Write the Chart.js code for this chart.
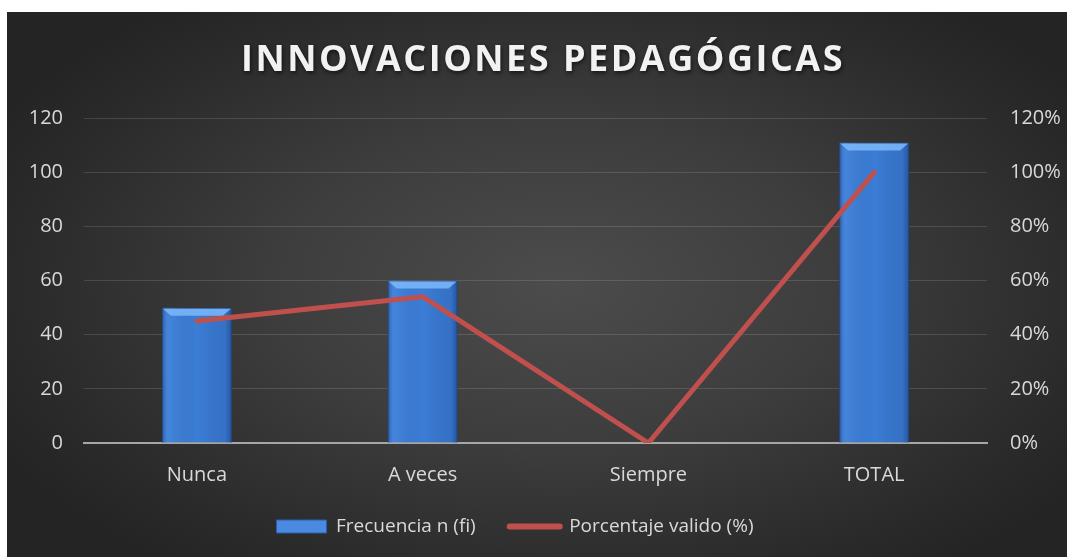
<!DOCTYPE html>
<html>
<head>
<meta charset="utf-8">
<script src="https://cdn.jsdelivr.net/npm/chart.js@4/dist/chart.umd.min.js"></script>
<style>
  html, body { margin: 0; padding: 0; background: #ffffff; }
  #wrap {
    position: absolute; left: 7px; top: 12px; width: 1060px; height: 545px;
    background: radial-gradient(ellipse 60% 65% at 52% 50%, #4c4c4c 0%, #3d3d3d 45%, #2a2a2a 85%, #242424 100%);
  }
</style>
</head>
<body>
<div id="wrap"><canvas id="chartjs" width="1060" height="545"></canvas></div>
<script>
// datos del gráfico
const categorias = ['Nunca', 'A veces', 'Siempre', 'TOTAL'];
const frecuencia = [50, 60, 0, 111];
const porcentaje = [45.05, 54.05, 0, 100];
const ticksIzq = [0, 20, 40, 60, 80, 100, 120];

const fuente = '"Open Sans", "Noto Sans", sans-serif';

// espaciado de letras para el título y leyenda un poco desplazada
const tituloPlugin = {
    id: 'tituloEspaciado',
    afterInit(chart) {
        const tb = chart.titleBlock;
        if (tb) {
            const orig = tb.draw.bind(tb);
            tb.draw = function () {
                const c = this.ctx;
                c.save();
                c.translate(6, 0);
                c.letterSpacing = '2.5px';
                c.shadowColor = 'rgba(0,0,0,0.6)';
                c.shadowBlur = 4;
                c.shadowOffsetX = 1;
                c.shadowOffsetY = 2;
                orig();
                c.restore();
            };
        }
        const lb = chart.legend;
        if (lb) {
            const origFit = lb.fit.bind(lb);
            lb.fit = function () {
                origFit();
                this.height -= 9;
            };
            const origL = lb.draw.bind(lb);
            lb.draw = function () {
                const c = this.ctx;
                c.save();
                c.translate(-22, -16);
                origL();
                c.restore();
            };
        }
    }
};

// efecto biselado de las barras
const biselPlugin = {
    id: 'bisel',
    afterDatasetDraw(chart, args) {
        if (args.index !== 1) return;
        const c = chart.ctx;
        args.meta.data.forEach(bar => {
            const h = bar.base - bar.y;
            if (h < 2) return;
            const l = bar.x - bar.width / 2, r = bar.x + bar.width / 2, t = bar.y;
            c.save();
            const g = c.createLinearGradient(l, 0, r, 0);
            g.addColorStop(0, 'rgba(20,50,110,0.55)');
            g.addColorStop(0.1, 'rgba(120,180,255,0.15)');
            g.addColorStop(0.5, 'rgba(0,0,0,0)');
            g.addColorStop(0.9, 'rgba(20,50,110,0.15)');
            g.addColorStop(1, 'rgba(20,50,110,0.55)');
            c.fillStyle = g;
            c.fillRect(l, t, r - l, h);
            const b = Math.min(8, h / 2);
            c.beginPath();
            c.moveTo(l + 1, t + 1);
            c.lineTo(r - 1, t + 1);
            c.lineTo(r - 1 - b, t + b);
            c.lineTo(l + 1 + b, t + b);
            c.closePath();
            c.fillStyle = 'rgba(125,185,250,0.85)';
            c.fill();
            c.restore();
        });
    }
};

const ctx = document.getElementById('chartjs').getContext('2d');
const myChart = new Chart(ctx, {
    type: 'bar',
    data: {
        labels: categorias,
        datasets: [
            {
                type: 'line',
                label: 'Porcentaje valido (%)',
                data: porcentaje,
                yAxisID: 'y1',
                borderColor: '#c0504d',
                backgroundColor: '#c0504d',
                borderWidth: 5,
                borderCapStyle: 'round',
                borderJoinStyle: 'round',
                pointRadius: 0,
                tension: 0,
                order: 0
            },
            {
                type: 'bar',
                label: 'Frecuencia n (fi)',
                data: frecuencia,
                yAxisID: 'y',
                backgroundColor: '#3b7dd6',
                borderColor: '#2c5fa9',
                borderWidth: 1,
                barPercentage: 0.31,
                categoryPercentage: 1,
                order: 1
            }
        ]
    },
    options: {
        responsive: false,
        animation: false,
        layout: { padding: { left: 0, right: 0, top: 0, bottom: 4 } },
        plugins: {
            title: {
                display: true,
                text: 'INNOVACIONES PEDAGÓGICAS',
                color: '#f2f2f2',
                font: { family: fuente, size: 36, weight: 'bold' },
                padding: { top: 27, bottom: 36 }
            },
            legend: {
                position: 'bottom',
                reverse: true,
                labels: {
                    color: '#d9d9d9',
                    font: { family: fuente, size: 19 },
                    usePointStyle: true,
                    pointStyleWidth: 50,
                    boxHeight: 13,
                    padding: 34,
                    generateLabels(chart) {
                        const items = Chart.defaults.plugins.legend.labels.generateLabels(chart);
                        items.forEach(it => {
                            if (it.datasetIndex === 0) {
                                it.pointStyle = 'line';
                                it.lineWidth = 6;
                                it.lineCap = 'round';
                                it.strokeStyle = '#c0504d';
                            } else {
                                it.pointStyle = 'rect';
                                it.lineWidth = 1;
                                it.fillStyle = '#4a8ae0';
                                it.strokeStyle = '#2c5fa9';
                            }
                        });
                        return items;
                    }
                }
            },
            tooltip: { enabled: false }
        },
        scales: {
            x: {
                grid: { display: false },
                border: { color: '#a6a6a6', width: 2 },
                ticks: { color: '#d9d9d9', font: { family: fuente, size: 20 }, padding: 12 }
            },
            y: {
                position: 'left',
                min: 0,
                max: 120,
                afterBuildTicks(scale) { scale.ticks = ticksIzq.map(v => ({ value: v })); },
                afterFit(scale) { scale.width = 77; },
                grid: { color: 'rgba(255,255,255,0.13)', lineWidth: 1, drawTicks: false },
                border: { display: false },
                ticks: { color: '#d9d9d9', font: { family: fuente, size: 20 }, padding: 21 }
            },
            y1: {
                position: 'right',
                min: 0,
                max: 120,
                afterBuildTicks(scale) { scale.ticks = ticksIzq.map(v => ({ value: v })); },
                afterFit(scale) { scale.width = 80; },
                grid: { display: false, drawTicks: false },
                border: { display: false },
                ticks: {
                    color: '#d9d9d9',
                    font: { family: fuente, size: 20 },
                    padding: 23,
                    callback: v => v + '%'
                }
            }
        }
    },
    plugins: [tituloPlugin, biselPlugin]
});
</script>
</body>
</html>
